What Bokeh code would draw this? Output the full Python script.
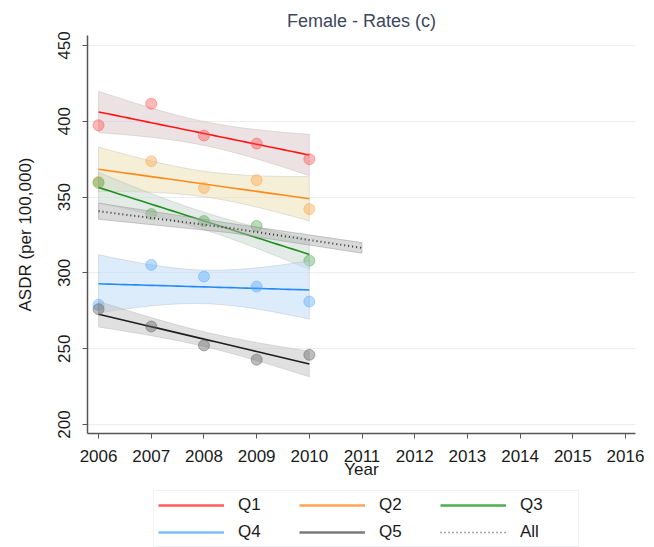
import numpy as np
from bokeh.plotting import figure
from bokeh.layouts import column
from bokeh.models import Range1d, FixedTicker, Legend, LegendItem
from bokeh.embed import file_html
from bokeh.resources import INLINE

# ---- data ----
years = [2006, 2007, 2008, 2009, 2010]
q1 = [397.4, 411.6, 390.6, 385.3, 375.0]
q2 = [360.2, 373.7, 356.1, 361.2, 342.1]
q3 = [359.4, 338.8, 334.2, 331.0, 308.1]
q4 = [279.0, 305.3, 297.6, 291.0, 281.1]
q5 = [276.1, 264.7, 252.2, 242.8, 246.0]

all_years = [2006, 2008.5, 2011]
all_fit = [340.7, 329.6, 316.5]
all_lo = [335.4, 326.5, 313.0]
all_hi = [346.0, 332.7, 320.0]

x_ticks = list(range(2006, 2017))
y_ticks = [200, 250, 300, 350, 400, 450]

names = ["Q1", "Q2", "Q3", "Q4", "Q5"]
series = [q1, q2, q3, q4, q5]
line_colors = ["#ff1414", "#ff8a1a", "#1f8f1f", "#2288ff", "#1e1e1e"]
pt_colors = ["#ff4d4d", "#ffa040", "#4aa84a", "#55a8ff", "#5a5a5a"]
band_colors = ["#dcc6c8", "#ecdfb2", "#c6d7cc", "#bcdaf7", "#c2c2c2"]
legend_colors = {"Q1": "#ff5c5c", "Q2": "#ffa552", "Q3": "#4cae4c",
                 "Q4": "#7dbcff", "Q5": "#7a7a7a", "All": "#555555"}

FONT = "Liberation Sans"

p = figure(width=646, height=490, output_backend="svg", toolbar_location=None,
           x_range=Range1d(2005.79, 2016.19), y_range=Range1d(194.1, 456.6),
           min_border_left=87, min_border_right=11, min_border_top=35,
           min_border_bottom=57, title="Female - Rates (c)")

p.title.align = "center"
p.title.text_font = FONT
p.title.text_font_size = "18px"
p.title.text_font_style = "normal"
p.title.text_color = "#3b4660"

p.outline_line_color = None
p.xgrid.grid_line_color = None
p.ygrid.grid_line_color = "#eeeeee"
p.ygrid.grid_line_width = 1

p.xaxis.ticker = FixedTicker(ticks=x_ticks)
p.yaxis.ticker = FixedTicker(ticks=y_ticks)
for ax in (p.xaxis, p.yaxis):
    ax.axis_line_color = "#555555"
    ax.axis_line_width = 1.5
    ax.major_tick_line_color = "#555555"
    ax.major_tick_out = 5
    ax.major_tick_in = 0
    ax.minor_tick_line_color = None
    ax.major_label_text_font = FONT
    ax.major_label_text_font_size = "17px"
    ax.major_label_text_color = "#1a1a1a"
    ax.axis_label_text_font = FONT
    ax.axis_label_text_font_style = "normal"
    ax.axis_label_text_color = "#1a1a1a"
p.yaxis.major_label_orientation = "vertical"
p.xaxis.axis_label = "Year"
p.xaxis.axis_label_text_font_size = "17px"
p.xaxis.axis_label_standoff = -5
p.xaxis.major_label_standoff = 11
p.yaxis.axis_label = "ASDR (per 100,000)"
p.yaxis.axis_label_text_font_size = "17px"
p.yaxis.axis_label_standoff = 21
p.yaxis.major_label_standoff = 12

xs = np.array(years, dtype=float)
grid = np.linspace(xs.min(), xs.max(), 41)
for name, ys, lc, pc, bc in zip(names, series, line_colors, pt_colors, band_colors):
    y = np.array(ys, dtype=float)
    n = len(xs)
    xm = xs.mean()
    sxx = ((xs - xm) ** 2).sum()
    b = ((xs - xm) * (y - y.mean())).sum() / sxx
    a = y.mean() - b * xm
    resid = y - (a + b * xs)
    s = np.sqrt((resid ** 2).sum() / (n - 2))
    fit = a + b * grid
    se = s * np.sqrt(1.0 / n + (grid - xm) ** 2 / sxx)
    hi = fit + 1.96 * se
    lo = fit - 1.96 * se
    p.patch(list(grid) + list(grid[::-1]), list(hi) + list(lo[::-1]),
            fill_color=bc, fill_alpha=0.5, line_color="#999999", line_alpha=0.25, line_width=1)
    p.line(grid, fit, line_color=lc, line_width=1.6)
    p.scatter(xs, y, size=11, fill_color=pc, fill_alpha=0.4,
              line_color=pc, line_alpha=0.45)

# All
p.patch(all_years + all_years[::-1], all_hi + all_lo[::-1],
        fill_color="#b4b4b4", fill_alpha=0.5, line_color="#888888", line_alpha=0.4)
p.line(all_years, all_fit, line_color="#333333", line_width=2, line_dash="1 3")

# ---- legend strip below the chart ----
lf = figure(width=646, height=57, output_backend="svg", toolbar_location=None,
            x_range=Range1d(0, 1), y_range=Range1d(0, 1),
            x_axis_type=None, y_axis_type=None,
            min_border_left=0, min_border_right=0, min_border_top=0, min_border_bottom=0)
lf.grid.visible = False
lf.outline_line_color = None

# legend swatches only: their data lie outside the strip's ranges
swatch_x = [-2, -1]
swatch_y = [-2, -1]
legend_order = ["Q1", "Q2", "Q3", "Q4", "Q5", "All"]
items = []
for nm in legend_order:
    if nm == "All":
        r = lf.line(swatch_x, swatch_y, line_color=legend_colors[nm], line_width=1.5, line_dash="1 3")
    else:
        r = lf.line(swatch_x, swatch_y, line_color=legend_colors[nm], line_width=2.5)
    items.append(LegendItem(label=nm, renderers=[r]))

legend = Legend(items=items, orientation="horizontal", nrows=2,
                location=(66, 0),
                glyph_width=66, glyph_height=14, label_standoff=14,
                label_width=54, spacing=7, padding=4, margin=0,
                label_text_font=FONT, label_text_font_size="17px",
                label_text_color="#1a1a1a",
                border_line_color="#dfe6e6", border_line_width=1,
                background_fill_color="white")
lf.add_layout(legend, "center")

layout = column(p, lf, spacing=0)
open("out.html", "w").write(file_html(layout, INLINE))
